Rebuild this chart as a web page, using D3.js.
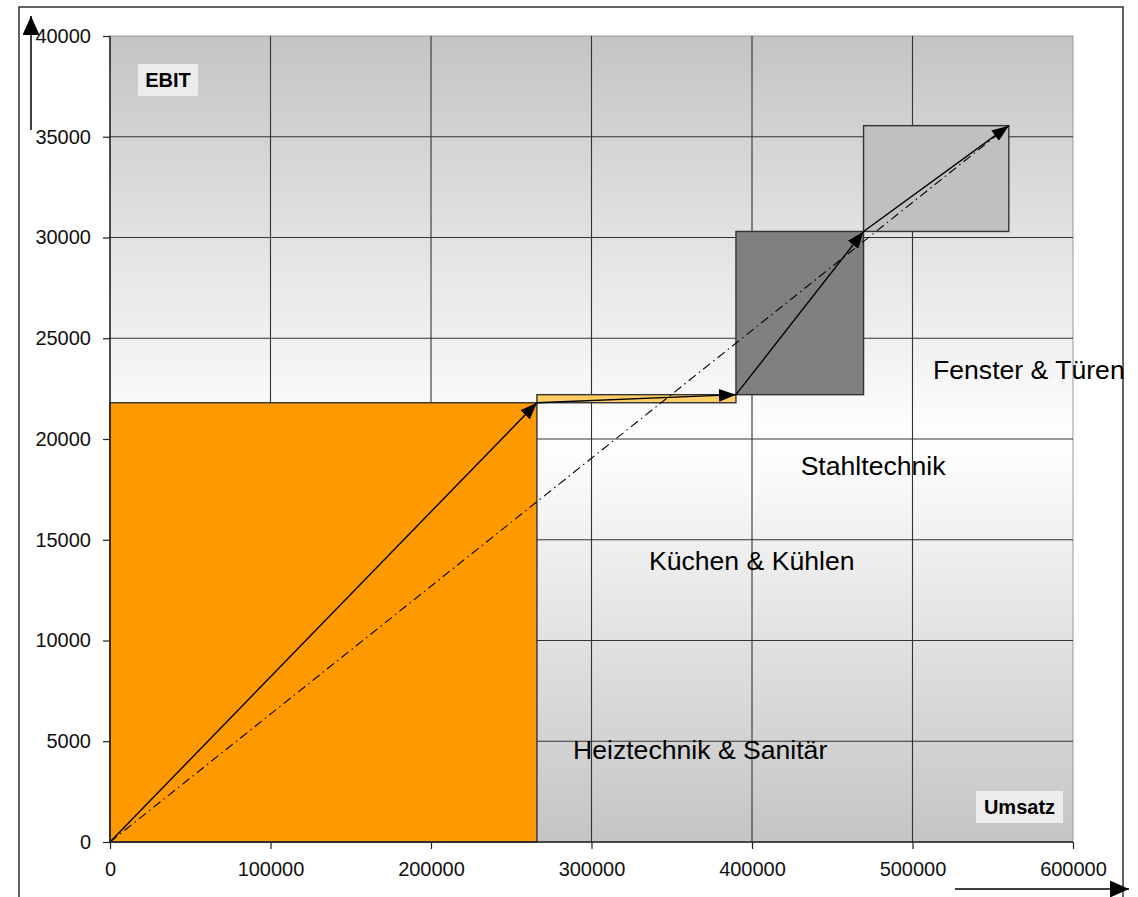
<!DOCTYPE html>
<html>
<head>
<meta charset="utf-8">
<script src="https://cdn.jsdelivr.net/npm/d3@7/dist/d3.min.js"></script>
<style>
  body { margin: 0; background: #fff; }
  svg { display: block; font-family: "Liberation Sans", Arial, sans-serif; }
</style>
</head>
<body>
<svg id="chart" width="1138" height="897"></svg>
<script>
// segments, stacked one after another (Umsatz on x, EBIT on y)
var segments = ["Heiztechnik & Sanitär", "Küchen & Kühlen", "Stahltechnik", "Fenster & Türen"];
var umsatz = [266000, 124000, 79500, 90500];
var ebit = [21800, 400, 8100, 5250];
var segColors = ["#ff9900", "#ffcc66", "#808080", "#c0c0c0"];

var xTicks = [0, 100000, 200000, 300000, 400000, 500000, 600000];
var yTicks = [0, 5000, 10000, 15000, 20000, 25000, 30000, 35000, 40000];

var svg = d3.select("#chart");

var x = d3.scaleLinear().domain([0, 600000]).range([110, 1073]);
var y = d3.scaleLinear().domain([0, 40000]).range([842, 36]);

// cumulative starting points
var boxes = [];
var cx = 0, cy = 0;
for (var i = 0; i < segments.length; i++) {
  boxes.push({ name: segments[i], x0: cx, y0: cy, x1: cx + umsatz[i], y1: cy + ebit[i], color: segColors[i] });
  cx += umsatz[i];
  cy += ebit[i];
}

// outer frame
svg.append("rect")
  .attr("x", 19).attr("y", 7)
  .attr("width", 1104).attr("height", 905)
  .attr("fill", "none")
  .attr("stroke", "#333").attr("stroke-width", 1.5);

// background gradient of plot area
var defs = svg.append("defs");
var grad = defs.append("linearGradient")
  .attr("id", "bg").attr("x1", 0).attr("y1", 0).attr("x2", 0).attr("y2", 1);
grad.append("stop").attr("offset", "0%").attr("stop-color", "#c4c4c4");
grad.append("stop").attr("offset", "50%").attr("stop-color", "#ffffff");
grad.append("stop").attr("offset", "100%").attr("stop-color", "#c4c4c4");

// arrow markers (sizes in user units)
var makeHead = function(id, len, wid) {
  defs.append("marker")
    .attr("id", id)
    .attr("viewBox", "0 0 " + len + " " + wid)
    .attr("refX", len).attr("refY", wid / 2)
    .attr("markerUnits", "userSpaceOnUse")
    .attr("markerWidth", len).attr("markerHeight", wid)
    .attr("orient", "auto")
    .append("path").attr("d", "M0,0 L" + len + "," + (wid / 2) + " L0," + wid + " Z").attr("fill", "#000");
};
makeHead("head", 17, 13);
makeHead("bigHead", 19, 17);

svg.append("rect")
  .attr("x", x(0)).attr("y", y(40000))
  .attr("width", x(600000) - x(0)).attr("height", y(0) - y(40000))
  .attr("fill", "url(#bg)")
  .attr("stroke", "#999").attr("stroke-width", 1);

// grid
var grid = svg.append("g").attr("stroke", "#333").attr("stroke-width", 1.1);
grid.selectAll(".h").data(yTicks.filter(function(d) { return d > 0 && d < 40000; }))
  .enter().append("line")
  .attr("x1", x(0)).attr("x2", x(600000))
  .attr("y1", function(d) { return y(d); }).attr("y2", function(d) { return y(d); });
grid.selectAll(".v").data(xTicks.filter(function(d) { return d > 0 && d < 600000; }))
  .enter().append("line")
  .attr("y1", y(0)).attr("y2", y(40000))
  .attr("x1", function(d) { return x(d); }).attr("x2", function(d) { return x(d); });

// segment boxes
svg.selectAll(".box").data(boxes).enter().append("rect")
  .attr("class", "box")
  .attr("x", function(d) { return x(d.x0); })
  .attr("y", function(d) { return y(d.y1); })
  .attr("width", function(d) { return x(d.x1) - x(d.x0); })
  .attr("height", function(d) { return y(d.y0) - y(d.y1); })
  .attr("fill", function(d) { return d.color; })
  .attr("stroke", "#333").attr("stroke-width", 1.4);

// dash-dot line from origin to total
svg.append("line")
  .attr("x1", x(0)).attr("y1", y(0))
  .attr("x2", x(cx)).attr("y2", y(cy))
  .attr("stroke", "#000").attr("stroke-width", 1.1)
  .attr("stroke-dasharray", "9,4,1.5,4");

// arrows per segment
svg.selectAll(".arr").data(boxes).enter().append("line")
  .attr("x1", function(d) { return x(d.x0); })
  .attr("y1", function(d) { return y(d.y0); })
  .attr("x2", function(d) { return x(d.x1); })
  .attr("y2", function(d) { return y(d.y1); })
  .attr("stroke", "#000").attr("stroke-width", 1.4)
  .attr("marker-end", "url(#head)");

// axes
var yAxis = svg.append("g")
  .attr("transform", "translate(" + x(0) + ",0)")
  .call(d3.axisLeft(y).tickValues(yTicks).tickSize(7).tickPadding(12).tickFormat(d3.format("d")));
var xAxis = svg.append("g")
  .attr("transform", "translate(0," + y(0) + ")")
  .call(d3.axisBottom(x).tickValues(xTicks).tickSize(7).tickFormat(d3.format("d")));

[yAxis, xAxis].forEach(function(ax) {
  ax.select(".domain").attr("stroke", "#222").attr("stroke-width", 1.5);
  ax.selectAll(".tick line").attr("stroke", "#222").attr("stroke-width", 1.2);
  ax.selectAll("text").attr("font-size", "20px").attr("fill", "#111")
    .attr("font-family", "Liberation Sans, Arial, sans-serif");
});
xAxis.selectAll("text").attr("y", 34).attr("dy", 0);
yAxis.select(".domain").attr("d", "M0," + y(0) + "V" + y(40000));
xAxis.select(".domain").attr("d", "M" + x(0) + ",0H" + x(600000));

// segment labels (placed in data space)
var labelAt = [[288500, 4100], [335800, 13500], [430300, 18200], [512800, 23000]];
svg.selectAll(".lab").data(segments).enter().append("text")
  .attr("x", function(d, i) { return x(labelAt[i][0]); })
  .attr("y", function(d, i) { return y(labelAt[i][1]); })
  .attr("font-size", "26.6px").attr("fill", "#000")
  .text(function(d) { return d; });

// axis title boxes
var titleBox = function(text, bx, by, bw, bh) {
  svg.append("rect").attr("x", bx).attr("y", by).attr("width", bw).attr("height", bh)
    .attr("fill", "#ececec");
  svg.append("text").attr("x", bx + bw / 2).attr("y", by + bh / 2 + 7)
    .attr("text-anchor", "middle")
    .attr("font-size", "20px").attr("font-weight", "bold")
    .text(text);
};
titleBox("EBIT", 138, 64, 60, 32);
titleBox("Umsatz", 976, 791, 87, 32);

// axis direction arrows
svg.append("line").attr("x1", 31).attr("y1", 130).attr("x2", 31).attr("y2", 16)
  .attr("stroke", "#000").attr("stroke-width", 1.5).attr("marker-end", "url(#bigHead)");
svg.append("line").attr("x1", 955).attr("y1", 889).attr("x2", 1129).attr("y2", 889)
  .attr("stroke", "#000").attr("stroke-width", 1.5).attr("marker-end", "url(#bigHead)");
</script>
</body>
</html>
